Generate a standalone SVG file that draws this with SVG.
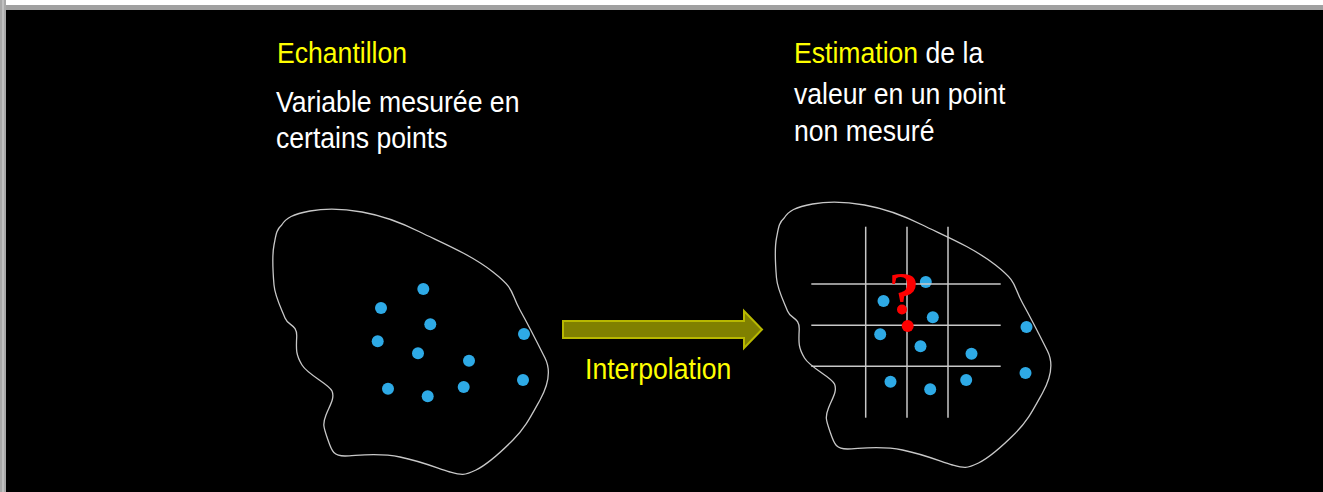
<svg xmlns="http://www.w3.org/2000/svg" xmlns:xlink="http://www.w3.org/1999/xlink" width="1323" height="492" viewBox="0 0 1323 492">
<style>
.t{font-family:"Liberation Sans",Arial,sans-serif;font-size:26.6px;}
.y{fill:#ffff00;}
.w{fill:#ffffff;}
.blob{fill:none;stroke:#c8c8c8;stroke-width:1.3;}
.dot{fill:#2eaae6;}
.grid{stroke:#c8c8c8;stroke-width:1.5;}
</style>
<defs>
<g id="field">
<path class="blob" d="M281.7,225 C286,218 293,214 310,211 S345,209 362,212 S400,222 420,232 S470,254 493,272 S510,292 520,310 S540,348 545,358 S550,382 540,400 S525,428 513,440 S488,464 476,470 S461,475 450,472 S424,462 400,457 S356,456 345,456 S332,452 328,440 S322,425 326,415 S335,398 332,391 S308,375 302,365 S296,350 296.7,337 S288,326 285,318 S275,297 274,285 S272,255 274,245 S276,230 281.7,225 Z"/>
<circle class="dot" cx="423.3" cy="289" r="6"/>
<circle class="dot" cx="381" cy="308" r="6"/>
<circle class="dot" cx="430.3" cy="324.3" r="6"/>
<circle class="dot" cx="377.7" cy="341.3" r="6"/>
<circle class="dot" cx="418" cy="353.3" r="6"/>
<circle class="dot" cx="469" cy="360.7" r="6"/>
<circle class="dot" cx="524" cy="334" r="6"/>
<circle class="dot" cx="388" cy="388.7" r="6"/>
<circle class="dot" cx="427.7" cy="396.3" r="6"/>
<circle class="dot" cx="463.7" cy="387" r="6"/>
<circle class="dot" cx="523" cy="380" r="6"/>
</g>
</defs>
<rect x="0" y="0" width="1323" height="492" fill="#000000"/>
<rect x="0" y="0" width="1323" height="5" fill="#ffffff"/>
<rect x="0" y="5" width="1323" height="5" fill="#a0a0a0"/>
<rect x="0" y="0" width="6" height="492" fill="#a8a8a8"/>
<rect x="2" y="0" width="2" height="492" fill="#c0c0c0"/>

<g id="sample">
<use xlink:href="#field" href="#field"/>
<text class="t y" transform="translate(277,63) scale(1,1.13)">Echantillon</text>
<text class="t w" transform="translate(276,112) scale(1,1.13)">Variable mesurée en</text>
<text class="t w" transform="translate(276,148) scale(1,1.13)">certains points</text>
</g>

<g id="estimation">
<use xlink:href="#field" href="#field" transform="translate(502.5,-7)"/>
<g>
<line class="grid" x1="865.7" y1="226.7" x2="865.7" y2="417.7"/>
<line class="grid" x1="907" y1="226.7" x2="907" y2="417.7"/>
<line class="grid" x1="948" y1="226.7" x2="948" y2="417.7"/>
<line class="grid" x1="811.3" y1="284" x2="1000.7" y2="284"/>
<line class="grid" x1="811.3" y1="325.3" x2="1000.7" y2="325.3"/>
<line class="grid" x1="811.3" y1="366.3" x2="1000.7" y2="366.3"/>
</g>
<text x="904" y="314" text-anchor="middle" style="font-family:'Liberation Serif','Times New Roman',serif;font-size:62px;font-weight:bold;fill:#ff0000">?</text>
<circle cx="907.7" cy="326" r="6" fill="#ff0000"/>
<text class="t" transform="translate(794,63) scale(1,1.13)"><tspan class="y">Estimation</tspan><tspan class="w"> de la</tspan></text>
<text class="t w" transform="translate(794,104) scale(1,1.13)">valeur en un point</text>
<text class="t w" transform="translate(794,141) scale(1,1.13)">non mesuré</text>
</g>

<g id="connectors">
<polygon points="563,321 744,321 744,311 762,329.5 744,348 744,338 563,338" fill="#808000" stroke="#b8b800" stroke-width="2"/>
<text class="t y" transform="translate(585,379) scale(1,1.13)">Interpolation</text>
</g>
</svg>
